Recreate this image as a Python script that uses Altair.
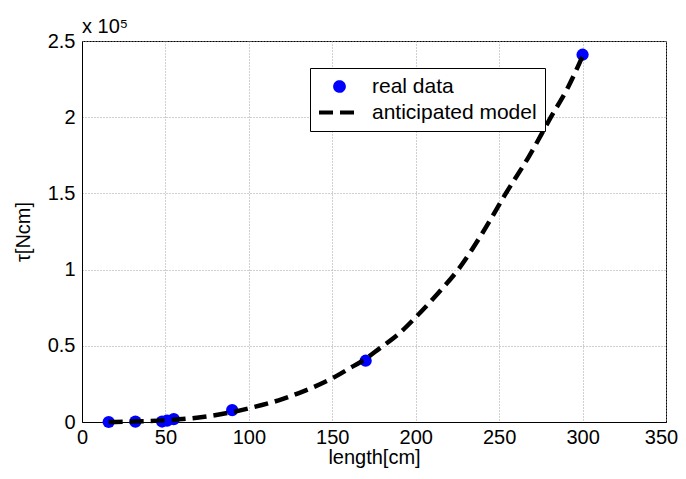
import altair as alt
import pandas as pd

FONT = "Liberation Sans"

series_names = ["real data", "anticipated model"]
series_colors = ["#0000ff", "#000000"]

# measured data points (length in cm, torque in Ncm)
data_x = [16, 32, 48, 51, 55, 90, 170, 300]
data_y = [0, 200, 300, 900, 1900, 7800, 40200, 241000]

# anticipated model curve
model_x = [16, 30, 50, 70, 90, 100, 120, 130, 150, 160, 170, 178, 190, 200,
           213, 226, 240, 254, 268, 281, 291, 300]
model_y = [30, 250, 1100, 3000, 6500, 9000, 15000, 19000, 28700, 35000, 41500, 48000, 58000, 68700,
           84000, 100800, 124000, 150000, 174500, 200000, 219000, 240000]

x_ticks = [0, 50, 100, 150, 200, 250, 300, 350]
y_ticks = [0, 50000, 100000, 150000, 200000, 250000]

pts = pd.DataFrame({"x": data_x, "y": data_y, "series": series_names[0]})
mdl = pd.DataFrame({"x": model_x, "y": model_y, "series": series_names[1]})

xs = alt.Scale(domain=[0, 350], nice=False, zero=False)
ys = alt.Scale(domain=[0, 250000], nice=False)

col_scale = alt.Scale(domain=series_names, range=series_colors)
shape_scale = alt.Scale(domain=series_names, range=["circle", "M-4.7,0L4.7,0"])
dash_scale = alt.Scale(domain=series_names, range=[[1, 0], [14, 7]])

leg = alt.Legend(
    orient="none", legendX=228, legendY=27,
    labelFont=FONT, labelFontSize=21, labelColor="black", labelLimit=400,
    fillColor="white", strokeColor="black", padding=8, rowPadding=2,
    symbolSize=76, symbolStrokeWidth=4, symbolOffset=11, labelOffset=22,
    cornerRadius=0,
)

x_enc = alt.X("x:Q", scale=xs, axis=alt.Axis(
    values=x_ticks, title="length[cm]",
    labelOffset={"condition": {"test": "datum.value === 350", "value": -5}, "value": 0},
))
y_enc = alt.Y("y:Q", scale=ys, axis=alt.Axis(values=y_ticks, title="τ[Ncm]",
                                            labelExpr="datum.value / 100000"))

points = alt.Chart(pts).mark_point(filled=True, size=150, opacity=1).encode(
    x=x_enc, y=y_enc,
    fill=alt.Fill("series:N", scale=col_scale, legend=leg, title=None),
    shape=alt.Shape("series:N", scale=shape_scale, legend=leg, title=None),
)

line = alt.Chart(mdl).mark_line(strokeWidth=4.5, interpolate="monotone").encode(
    x=x_enc, y=y_enc,
    stroke=alt.Stroke("series:N", scale=col_scale, legend=leg, title=None),
    strokeDash=alt.StrokeDash("series:N", scale=dash_scale, legend=leg, title=None),
)

chart = alt.layer(points, line).properties(
    width=584, height=381,
    autosize=alt.AutoSizeParams(type="none"),
    padding={"left": 74, "top": 33, "right": 12, "bottom": 49},
    title=alt.TitleParams(text="x 10⁵", anchor="start", frame="group", fontSize=20,
                          font=FONT, fontWeight="normal", color="black", offset=8, dy=14),
).configure_axis(
    labelFont=FONT, labelFontSize=20, labelColor="black",
    titleFont=FONT, titleFontSize=20, titleColor="black", titleFontWeight="normal",
    domainColor="black", domainWidth=1, ticks=False,
    grid=True, gridColor="#a0a0a0", gridDash=[1, 2], gridWidth=1, gridOpacity=1,
    labelFlush=False,
).configure_axisX(
    labelPadding=5, titlePadding=0,
).configure_axisY(
    labelPadding=7, titlePadding=14,
).configure_view(
    stroke="black", strokeWidth=1,
)

chart.save("out.html", embed_options={"renderer": "svg", "actions": False})
